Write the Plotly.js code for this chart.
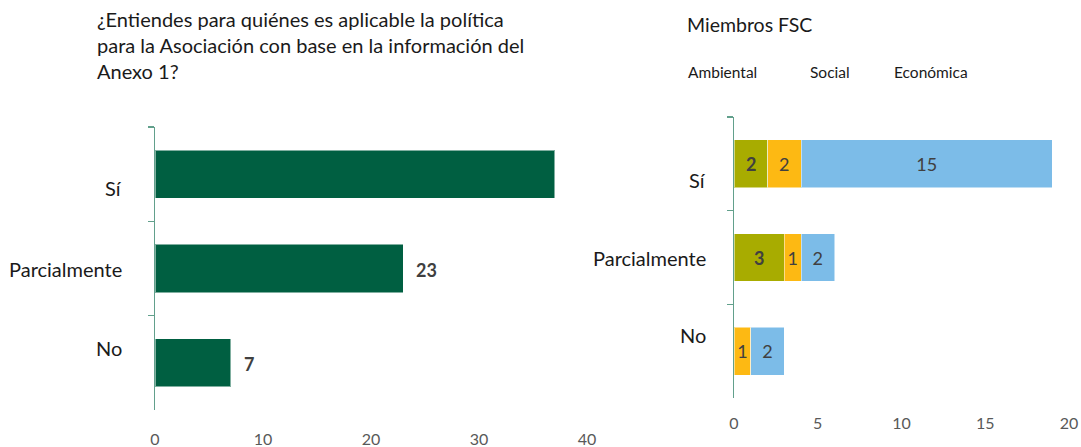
<!DOCTYPE html>
<html>
<head>
<meta charset="utf-8">
<script src="https://cdn.plot.ly/plotly-3.0.1.min.js"></script>
<style>html,body{margin:0;padding:0;background:#fff;}#chart{width:1081px;height:447px;}</style>
</head>
<body>
<div id="chart"></div>
<script>
// ---- data ----
const categories = ['Sí', 'Parcialmente', 'No'];
const leftValues = [37, 23, 7];
const leftShownLabels = [false, true, true];   // label of the first bar is clipped in the reference
const seriesNames = ['Ambiental', 'Social', 'Económica'];
const ambiental = [2, 3, null];
const social = [2, 1, 1];
const economica = [15, 2, 2];
const leftTicks = [0, 10, 20, 30, 40];
const rightTicks = [0, 5, 10, 15, 20];
const leftTitle = '¿Entiendes para quiénes es aplicable la política<br>para la Asociación con base en la información del<br>Anexo 1?';
const rightTitle = 'Miembros FSC';

// ---- styles ----
const W = 1081, H = 447;
const FONT = 'Lato, "Open Sans", sans-serif';
const axisCol = '#62a08c';
const labelCol = '#404040';
const tickCol = '#595959';
const seriesColors = ['#a8ac00', '#fdb913', '#7cbce8'];
const seriesBold = [true, false, false];

const traces = [];
traces.push({
  type: 'bar', orientation: 'h', y: categories, x: leftValues,
  xaxis: 'x', yaxis: 'y',
  marker: {color: '#005f41', line: {color: 'rgba(255,255,255,0.5)', width: 1}},
  hoverinfo: 'x+y', showlegend: false
});
const rightSeries = [ambiental, social, economica];
const annotations = [];
rightSeries.forEach((vals, i) => {
  const f = {family: FONT, size: 18, color: labelCol};
  traces.push({
    type: 'bar', orientation: 'h', y: categories, x: vals, name: seriesNames[i],
    xaxis: 'x2', yaxis: 'y2',
    marker: {color: seriesColors[i], line: {color: 'rgba(255,255,255,0.5)', width: 1}},
    text: vals.map(v => (v == null || seriesBold[i]) ? '' : String(v)),
    textposition: 'inside', insidetextanchor: 'middle',
    textfont: f, insidetextfont: f,
    showlegend: false
  });
  if (seriesBold[i]) {
    // bold labels drawn as annotations centred in the segment
    vals.forEach((v, k) => {
      if (v == null) return;
      let base = 0;
      for (let j = 0; j < i; j++) base += rightSeries[j][k] || 0;
      annotations.push({xref: 'x2', yref: 'y2', x: base + v / 2, y: categories[k],
        text: '<b>' + v + '</b>', showarrow: false, xanchor: 'center',
        font: {family: FONT, size: 18, color: labelCol}});
    });
  }
});

// left value labels
leftValues.forEach((v, i) => {
  if (!leftShownLabels[i]) return;
  annotations.push({xref: 'x', yref: 'y', x: v, y: categories[i], text: '<b>' + v + '</b>',
    showarrow: false, xanchor: 'left', xshift: 11, yshift: -1,
    font: {family: FONT, size: 18, color: labelCol}});
});
// category labels
const leftShift = [-14, 0, 15];
const rightShift = [-16, 0, 16];
categories.forEach((c, i) => {
  annotations.push({xref: 'paper', yref: 'y', x: 124 / W, y: c, text: c, showarrow: false,
    xanchor: 'right', yshift: leftShift[i], font: {family: FONT, size: 20, color: '#1a1a1a'}});
  annotations.push({xref: 'paper', yref: 'y2', x: 708 / W, y: c, text: c, showarrow: false,
    xanchor: 'right', yshift: rightShift[i], font: {family: FONT, size: 20, color: '#1a1a1a'}});
});
// titles
annotations.push({xref: 'paper', yref: 'paper', x: 95 / W, y: 1 - 5 / H, text: leftTitle,
  showarrow: false, xanchor: 'left', yanchor: 'top', align: 'left',
  font: {family: FONT, size: 20, color: '#1a1a1a'}});
annotations.push({xref: 'paper', yref: 'paper', x: 685 / W, y: 1 - 11 / H, text: rightTitle,
  showarrow: false, xanchor: 'left', yanchor: 'top', align: 'left',
  font: {family: FONT, size: 19.5, color: '#1a1a1a'}});
// series names (legend text without swatches)
const legendX = [686, 808, 892];
seriesNames.forEach((n, i) => {
  annotations.push({xref: 'paper', yref: 'paper', x: legendX[i] / W, y: 1 - 72 / H, text: n,
    showarrow: false, xanchor: 'left', yanchor: 'middle',
    font: {family: FONT, size: 15.5, color: '#1a1a1a'}});
});

const yCommon = {
  type: 'category', categoryorder: 'array', categoryarray: categories,
  autorange: 'reversed', showline: true, linecolor: axisCol, linewidth: 1.5,
  ticks: 'outside', tickson: 'boundaries', ticklen: 6, tickcolor: axisCol, tickwidth: 1.5,
  showticklabels: false, showgrid: false, zeroline: false, fixedrange: true
};
const xCommon = {
  showline: false, showgrid: false, zeroline: false, ticks: '',
  tickfont: {family: FONT, size: 16, color: tickCol}, fixedrange: true
};

const layout = {
  width: W, height: H, margin: {l: 0, r: 0, t: 0, b: 0},
  paper_bgcolor: '#fff', plot_bgcolor: '#fff',
  barmode: 'stack', bargap: 0.49, showlegend: false,
  uniformtext: {mode: 'show', minsize: 18},
  xaxis: Object.assign({}, xCommon, {domain: [155 / W, 587 / W], range: [0, 40],
    tickvals: leftTicks, anchor: 'y', ticklabelstandoff: 18}),
  yaxis: Object.assign({}, yCommon, {domain: [37 / H, 320 / H], anchor: 'x'}),
  xaxis2: Object.assign({}, xCommon, {domain: [734 / W, 1069 / W], range: [0, 20],
    tickvals: rightTicks, anchor: 'y2', ticklabelstandoff: 14}),
  yaxis2: Object.assign({}, yCommon, {domain: [49 / H, 330 / H], anchor: 'x2'}),
  annotations: annotations
};

Plotly.newPlot('chart', traces, layout, {displayModeBar: false, staticPlot: true});
</script>
</body>
</html>
